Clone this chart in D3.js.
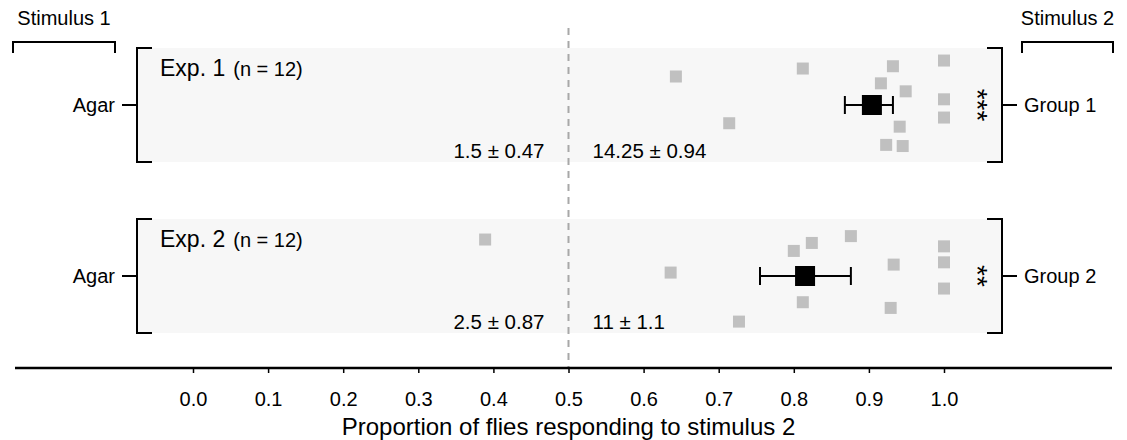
<!DOCTYPE html>
<html>
<head>
<meta charset="utf-8">
<script src="https://cdn.jsdelivr.net/npm/d3@7"></script>
<style>
  body { margin: 0; background: #fff; }
  svg text { font-family: Arial, "Liberation Sans", sans-serif; fill: #000; }
</style>
</head>
<body>
<div id="container"></div>
<script>
/***** data *****/
const experiments = ["Exp. 1", "Exp. 2"];
const nFlies = [12, 12];
const controls = ["Agar", "Agar"];
const groups = ["Group 1", "Group 2"];
const stimulusLabels = ["Stimulus 1", "Stimulus 2"];

// proportion per fly group + vertical jitter (0 = top of panel, 1 = bottom)
const exp1Values = [0.643, 0.812, 0.714, 0.932, 0.916, 0.949, 1.0, 1.0, 1.0, 0.941, 0.923, 0.945];
const exp1Jitter = [0.25, 0.18, 0.66, 0.16, 0.31, 0.38, 0.11, 0.45, 0.61, 0.69, 0.85, 0.86];
const exp2Values = [0.389, 0.636, 0.727, 0.800, 0.824, 0.876, 0.812, 0.933, 0.929, 1.0, 1.0, 1.0];
const exp2Jitter = [0.18, 0.47, 0.90, 0.28, 0.21, 0.15, 0.73, 0.40, 0.78, 0.24, 0.38, 0.61];

const means = [0.904, 0.815];
const errLow = [0.868, 0.755];
const errHigh = [0.932, 0.876];

const countsStim1 = ["1.5 ± 0.47", "2.5 ± 0.87"];
const countsStim2 = ["14.25 ± 0.94", "11 ± 1.1"];
const stars = ["***", "**"];

const tickValues = [0, 0.1, 0.2, 0.3, 0.4, 0.5, 0.6, 0.7, 0.8, 0.9, 1.0];
const axisTitle = "Proportion of flies responding to stimulus 2";

/***** chart *****/
const width = 1127, height = 440;

const svg = d3.select("#container")
  .append("svg")
    .attr("width", width)
    .attr("height", height);

const x = d3.scaleLinear().domain([0, 1]).range([193, 944]);
const y = d3.scaleBand().domain(experiments).range([48, 333]).paddingInner(1 / 3);

const panelLeft = 137, panelRight = 1002;
const points = [exp1Values, exp2Values];
const jitters = [exp1Jitter, exp2Jitter];

// panel backgrounds
svg.selectAll("rect.panel")
  .data(experiments)
  .join("rect")
    .attr("class", "panel")
    .attr("x", panelLeft)
    .attr("y", d => y(d))
    .attr("width", panelRight - panelLeft)
    .attr("height", y.bandwidth())
    .attr("fill", "#f7f7f7");

// dashed 0.5 line
svg.append("line")
  .attr("x1", x(0.5)).attr("x2", x(0.5))
  .attr("y1", 28).attr("y2", 368)
  .attr("stroke", "#a8a8a8")
  .attr("stroke-width", 2)
  .attr("stroke-dasharray", "7,6");

experiments.forEach((e, i) => {
  const top = y(e), bot = top + y.bandwidth(), mid = top + y.bandwidth() / 2;
  const jy = d3.scaleLinear().domain([0, 1]).range([top, bot]);

  // brackets
  svg.append("path")
    .attr("d", `M${panelLeft + 15},${top}H${panelLeft}V${bot}H${panelLeft + 15}M${panelLeft - 15},${mid}H${panelLeft}`)
    .attr("fill", "none").attr("stroke", "#000").attr("stroke-width", 2);
  svg.append("path")
    .attr("d", `M${panelRight - 15},${top}H${panelRight}V${bot}H${panelRight - 15}M${panelRight + 15},${mid}H${panelRight}`)
    .attr("fill", "none").attr("stroke", "#000").attr("stroke-width", 2);

  svg.append("text")
    .attr("x", panelLeft - 22).attr("y", mid)
    .attr("text-anchor", "end").attr("dominant-baseline", "central")
    .style("font-size", "20px")
    .text(controls[i]);
  svg.append("text")
    .attr("x", panelRight + 22).attr("y", mid)
    .attr("dominant-baseline", "central")
    .style("font-size", "20px")
    .text(groups[i]);

  // experiment label
  const t = svg.append("text")
    .attr("x", panelLeft + 23).attr("y", top + 28)
    .style("font-size", "23px")
    .text(e);
  t.append("tspan").attr("dx", 8).style("font-size", "20px").text(`(n = ${nFlies[i]})`);

  // counts
  svg.append("text")
    .attr("x", x(0.5) - 24).attr("y", top + 110)
    .attr("text-anchor", "end")
    .style("font-size", "20.5px")
    .text(countsStim1[i]);
  svg.append("text")
    .attr("x", x(0.5) + 24).attr("y", top + 110)
    .style("font-size", "20.5px")
    .text(countsStim2[i]);

  // individual points
  const s = 12;
  svg.selectAll(null)
    .data(points[i])
    .join("rect")
      .attr("x", d => x(d) - s / 2)
      .attr("y", (d, j) => jy(jitters[i][j]) - s / 2)
      .attr("width", s).attr("height", s)
      .attr("fill", "#c0c0c0");

  // mean +- error
  svg.append("line")
    .attr("x1", x(errLow[i])).attr("x2", x(errHigh[i]))
    .attr("y1", mid).attr("y2", mid)
    .attr("stroke", "#000").attr("stroke-width", 2);
  [errLow[i], errHigh[i]].forEach(v => {
    svg.append("line")
      .attr("x1", x(v)).attr("x2", x(v))
      .attr("y1", mid - 9).attr("y2", mid + 9)
      .attr("stroke", "#000").attr("stroke-width", 2);
  });
  svg.append("rect")
    .attr("x", x(means[i]) - 10).attr("y", mid - 10)
    .attr("width", 20).attr("height", 20)
    .attr("fill", "#000");

  // significance stars
  svg.append("text")
    .attr("transform", `translate(977,${mid}) rotate(90)`)
    .attr("text-anchor", "middle").attr("dominant-baseline", "central")
    .style("font-size", "28px")
    .text(stars[i]);
});

// stimulus brackets
const stimX = [[13, 115], [1022, 1113]];
stimX.forEach((r, i) => {
  svg.append("path")
    .attr("d", `M${r[0]},53V42H${r[1]}V53`)
    .attr("fill", "none").attr("stroke", "#000").attr("stroke-width", 2);
  svg.append("text")
    .attr("x", (r[0] + r[1]) / 2).attr("y", 25)
    .attr("text-anchor", "middle")
    .style("font-size", "20px")
    .text(stimulusLabels[i]);
});

// x axis
svg.append("line")
  .attr("x1", 15).attr("x2", 1112)
  .attr("y1", 368).attr("y2", 368)
  .attr("stroke", "#000").attr("stroke-width", 2.5);

const axis = svg.append("g")
  .attr("transform", "translate(0,368)")
  .call(d3.axisBottom(x).tickValues(tickValues).tickFormat(d3.format(".1f")).tickSize(5).tickPadding(19));
axis.select(".domain").remove();
axis.selectAll("line").attr("stroke-width", 1.5);
axis.selectAll("text").style("font-size", "20px");

svg.append("text")
  .attr("x", x(0.5)).attr("y", 435)
  .attr("text-anchor", "middle")
  .style("font-size", "24px")
  .text(axisTitle);
</script>
</body>
</html>
